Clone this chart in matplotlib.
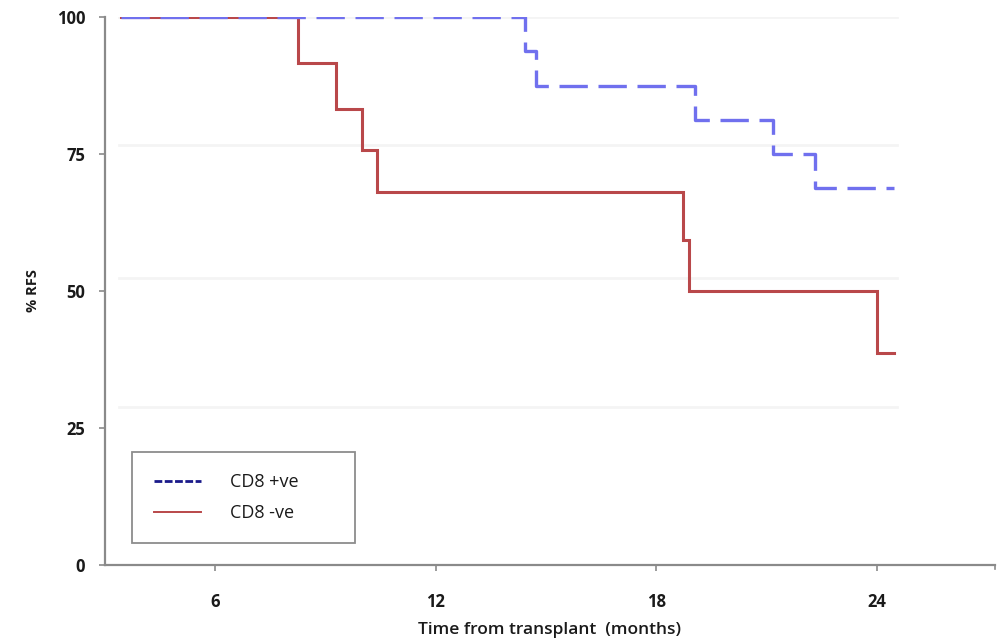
import matplotlib
matplotlib.use("Agg")
import matplotlib.pyplot as plt

# Data (months, % RFS)
pos_x = [3.45, 14.42, 14.72, 19.05, 21.18, 22.32, 24.47]
pos_y = [100, 93.75, 87.5, 81.25, 75.0, 68.75, 68.75]
neg_x = [3.45, 8.26, 9.30, 10.0, 10.39, 18.72, 18.88, 24.0, 24.47]
neg_y = [100, 91.7, 83.3, 75.8, 68.0, 59.3, 50.0, 38.7, 38.7]
x_ticks = [6, 12, 18, 24]
y_ticks = [0, 25, 50, 75, 100]
grid_levels = [100, 76.6, 52.4, 28.8]
labels = ["CD8 +ve", "CD8 -ve"]

plt.rcParams['font.family'] = ['Open Sans', 'DejaVu Sans']

fig = plt.figure(figsize=(10.07, 6.39), dpi=100)
ax = fig.add_axes([0.104, 0.116, 0.884, 0.857])
ax.set_xlim(3.0, 27.2)
ax.set_ylim(0, 100)

for g in grid_levels:
    ax.plot([3.4, 24.55], [g, g], color='#f4f4f4', lw=2.0, zorder=0)

neg_line, = ax.step(neg_x, neg_y, where='post', color='#b9484a', lw=2.2, zorder=2,
                    solid_joinstyle='miter', label=labels[1])
pos_line, = ax.step(pos_x, pos_y, where='post', color='#7070ee', lw=2.4, zorder=3,
                    dashes=(8.5, 3.2), label=labels[0])

for s in ['top', 'right']:
    ax.spines[s].set_visible(False)
for s in ['left', 'bottom']:
    ax.spines[s].set_color('#8a8a8a')
    ax.spines[s].set_linewidth(1.6)

ax.set_xticks(x_ticks)
ax.set_yticks(y_ticks)
ax.tick_params(axis='both', colors='#8a8a8a', length=4, width=1.2,
               labelsize=12, labelcolor='#1a1a1a')
ax.tick_params(axis='x', pad=16)
ax.tick_params(axis='y', pad=10)
for t in ax.get_xticklabels() + ax.get_yticklabels():
    t.set_fontweight('bold')
# small end tick on x-axis
ax.plot([27.2, 27.2], [0, -0.8], color='#8a8a8a', lw=1.2, clip_on=False)

ax.set_xlabel("Time from transplant  (months)", fontsize=12.5,
              fontweight='semibold', color='#1a1a1a', labelpad=8)
fig.text(0.033, 0.545, "% RFS", rotation=90, fontsize=10.5, fontweight='bold',
         color='#1a1a1a', ha='center', va='center')

leg = ax.legend([pos_line, neg_line], labels,
                loc='upper left', bbox_to_anchor=(0.031, 0.207, 0.25, 0.0),
                mode='expand', frameon=True, fancybox=False, fontsize=13,
                handlelength=2.6, borderpad=1.2, labelspacing=0.7,
                handletextpad=1.6, borderaxespad=0)
leg.get_frame().set_edgecolor('#707070')
leg.get_frame().set_linewidth(1.3)
h = leg.legend_handles
h[0].set_color('#1a1a8a')
h[0].set_dashes((2.8, 0.9))
h[0].set_linewidth(2.0)
h[1].set_linewidth(1.4)
for t in leg.get_texts():
    t.set_color('#1a1a1a')

fig.savefig("out.png", dpi=100, facecolor='white')
